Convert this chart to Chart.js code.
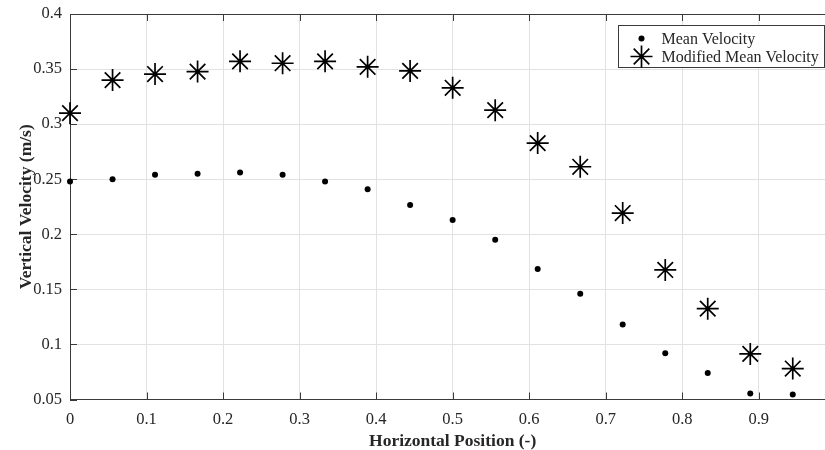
<!DOCTYPE html>
<html>
<head>
<meta charset="utf-8">
<script src="https://cdn.jsdelivr.net/npm/chart.js@4/dist/chart.umd.min.js"></script>
<style>
    html, body { margin: 0; padding: 0; background: #fff; overflow: hidden; }
    /* the original figure is cropped on the right, just past x = 0.98 */
    #wrap { width: 848px; height: 450px; }
</style>
</head>
<body>
<div id="wrap"><canvas id="chart"></canvas></div>
<script>
// ===================== DATA =====================

const xPositions = [0, 0.0556, 0.1111, 0.1667, 0.2222, 0.2778, 0.3333, 0.3889, 0.4444,
                    0.5, 0.5556, 0.6111, 0.6667, 0.7222, 0.7778, 0.8333, 0.8889, 0.9444];
const meanVelocity = [0.248, 0.250, 0.254, 0.255, 0.256, 0.254, 0.248, 0.241, 0.2265,
                      0.213, 0.195, 0.1685, 0.146, 0.118, 0.092, 0.074, 0.0555, 0.0546];
const modifiedVelocity = [0.310, 0.340, 0.3455, 0.3477, 0.357, 0.3553, 0.357, 0.352, 0.3483,
                          0.333, 0.3127, 0.2828, 0.2613, 0.2193, 0.1676, 0.1325, 0.0914, 0.0781];
const seriesLabels = ['Mean Velocity', 'Modified Mean Velocity'];

// ===================== STYLE =====================

const AXIS_COLOR = '#3a3a3a';
const TEXT_COLOR = '#262626';
const GRID_COLOR = '#e2e2e2';
const FONT = '"Liberation Serif", "Times New Roman", serif';

function toPoints(ys) {
    return xPositions.map((x, i) => ({ x, y: ys[i] }));
}

// MATLAB-like box: top edge and inward tick marks
const axesBoxPlugin = {
    id: 'axesBox',
    beforeDatasetsDraw(chart) {
        const { ctx, chartArea: a, scales } = chart;
        const len = 7;
        ctx.save();
        ctx.strokeStyle = AXIS_COLOR;
        ctx.lineWidth = 1;
        ctx.beginPath();
        ctx.moveTo(a.left, a.top + 0.5);
        ctx.lineTo(a.right, a.top + 0.5);
        scales.x.ticks.forEach(t => {
            const px = Math.round(scales.x.getPixelForValue(t.value)) + 0.5;
            ctx.moveTo(px, a.bottom); ctx.lineTo(px, a.bottom - len);
            ctx.moveTo(px, a.top);    ctx.lineTo(px, a.top + len);
        });
        scales.y.ticks.forEach(t => {
            const py = Math.round(scales.y.getPixelForValue(t.value)) + 0.5;
            ctx.moveTo(a.left, py); ctx.lineTo(a.left + len, py);
        });
        ctx.stroke();
        ctx.restore();
    }
};

function drawStar(ctx, x, y, r) {
    ctx.beginPath();
    ctx.moveTo(x - r, y); ctx.lineTo(x + r, y);
    ctx.moveTo(x, y - r); ctx.lineTo(x, y + r);
    const d = r * Math.SQRT1_2;
    ctx.moveTo(x - d, y - d); ctx.lineTo(x + d, y + d);
    ctx.moveTo(x - d, y + d); ctx.lineTo(x + d, y - d);
    ctx.stroke();
}

// Legend box in the upper right corner of the axes
const boxLegendPlugin = {
    id: 'boxLegend',
    afterDraw(chart) {
        const { ctx, chartArea: a } = chart;
        ctx.save();
        ctx.font = '16px ' + FONT;
        const textW = Math.max(...seriesLabels.map(s => ctx.measureText(s).width));
        const w = 44 + textW + 5;
        const h = 42;
        const x0 = a.right - 11.5 - w;
        const y0 = a.top + 11;
        ctx.fillStyle = '#fff';
        ctx.fillRect(x0, y0, w, h);
        ctx.strokeStyle = AXIS_COLOR;
        ctx.lineWidth = 1;
        ctx.strokeRect(Math.round(x0) + 0.5, Math.round(y0) + 0.5, Math.round(w), Math.round(h));

        const rows = [y0 + 13.5, y0 + 31.5];
        ctx.fillStyle = '#000';
        ctx.beginPath();
        ctx.arc(x0 + 24, rows[0], 3, 0, Math.PI * 2);
        ctx.fill();
        ctx.strokeStyle = '#000';
        ctx.lineWidth = 1.7;
        drawStar(ctx, x0 + 24, rows[1], 11);

        ctx.fillStyle = TEXT_COLOR;
        ctx.textBaseline = 'middle';
        ctx.textAlign = 'left';
        seriesLabels.forEach((s, i) => ctx.fillText(s, x0 + 44, rows[i] + 1));
        ctx.restore();
    }
};

const tickFmt = v => String(+Number(v).toFixed(2));

new Chart(document.getElementById('chart'), {
    type: 'scatter',
    data: {
        datasets: [
            {
                label: seriesLabels[0],
                data: toPoints(meanVelocity),
                pointStyle: 'circle',
                pointRadius: 3,
                pointBackgroundColor: '#000',
                pointBorderColor: '#000',
                pointBorderWidth: 0,
                showLine: false,
                clip: false
            },
            {
                label: seriesLabels[1],
                data: toPoints(modifiedVelocity),
                pointStyle: 'star',
                pointRadius: 11,
                pointBorderColor: '#000',
                pointBackgroundColor: '#000',
                pointBorderWidth: 1.7,
                showLine: false,
                clip: false
            }
        ]
    },
    options: {
        responsive: true,
        maintainAspectRatio: false,
        animation: false,
        layout: { padding: { top: 14, right: 6, left: 0, bottom: 0 } },
        plugins: {
            legend: { display: false },
            tooltip: { enabled: false }
        },
        scales: {
            x: {
                type: 'linear',
                min: 0,
                max: 1,
                afterFit: s => { s.height = 50.5; s.paddingLeft = 0; s.paddingRight = 0; },
                ticks: {
                    stepSize: 0.1,
                    autoSkip: false,
                    maxRotation: 0,
                    padding: 10.5,
                    color: TEXT_COLOR,
                    font: { family: FONT, size: 16.5 },
                    callback: tickFmt
                },
                grid: { color: GRID_COLOR, drawTicks: false },
                border: { color: AXIS_COLOR, width: 1 },
                title: {
                    display: true,
                    text: 'Horizontal Position (-)',
                    color: TEXT_COLOR,
                    font: { family: FONT, size: 17.5, weight: 'bold', lineHeight: 1.2 },
                    padding: { top: 0, bottom: -1.5 }
                }
            },
            y: {
                min: 0.05,
                max: 0.4,
                afterFit: s => { s.width = 70; s.paddingTop = 0; s.paddingBottom = 0; },
                ticks: {
                    stepSize: 0.05,
                    autoSkip: false,
                    padding: 8,
                    color: TEXT_COLOR,
                    font: { family: FONT, size: 16.5 },
                    callback: tickFmt
                },
                grid: { color: GRID_COLOR, drawTicks: false },
                border: { color: AXIS_COLOR, width: 1 },
                title: {
                    display: true,
                    text: 'Vertical Velocity (m/s)',
                    color: TEXT_COLOR,
                    font: { family: FONT, size: 17.5, weight: 'bold', lineHeight: 1.2 },
                    padding: { top: 16, bottom: 0 }
                }
            }
        }
    },
    plugins: [axesBoxPlugin, boxLegendPlugin]
});
</script>
</body>
</html>
